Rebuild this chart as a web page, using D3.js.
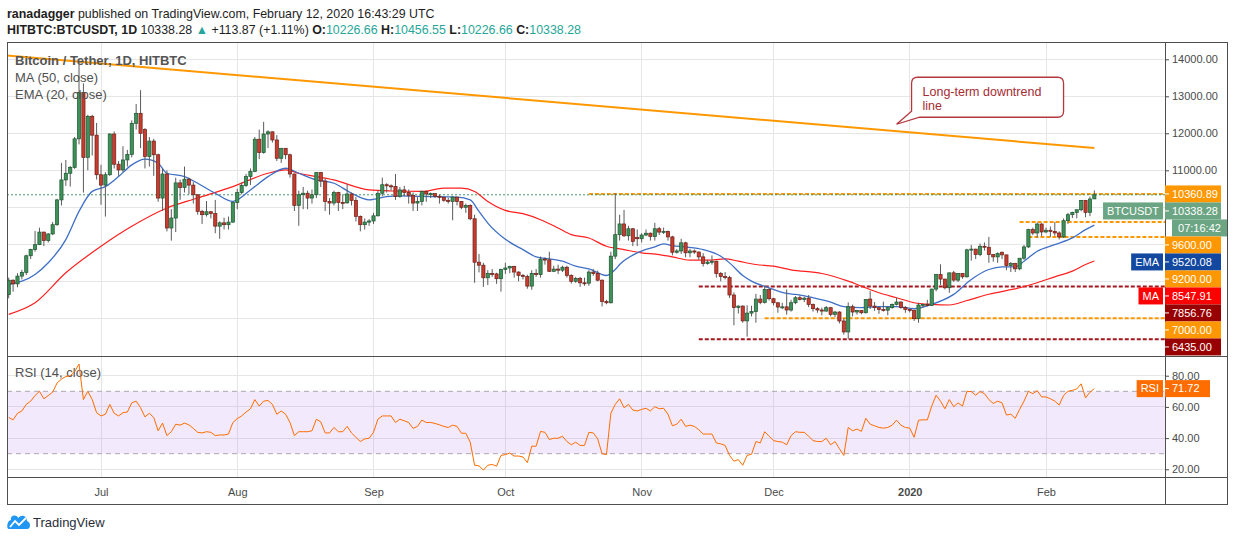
<!DOCTYPE html>
<html>
<head>
<meta charset="utf-8">
<title>Bitcoin / Tether, 1D, HITBTC</title>
<script src="https://cdnjs.cloudflare.com/ajax/libs/d3/7.8.5/d3.min.js"></script>
<style>
  body { margin: 0; background: #fff; }
  svg { display: block; font-family: "Liberation Sans", Arial, sans-serif; }
</style>
</head>
<body>
<svg id="chart" width="1234" height="541"></svg>
<script>
// daily candles, one per day starting here
const startDate = "2019-06-10"

const opens = [
  // Jun
  7640, 8030, 7930, 8140, 8240, 8690, 8860, 8990, 9330, 9100, 9280, 9530, 10200, 10740, 10920, 11080, 11850, 13100, 11350, 12460, 11950,
  // Jul
  10880, 10600, 10880, 11980, 11165, 11010, 11280, 11430, 12270, 12540, 12100, 11370, 11790, 11420, 10250, 10900, 9440, 9710, 10660, 10535, 10760, 10600, 10340, 9890, 9800, 9880, 9830, 9490, 9580, 9530, 9600,
  // Aug
  10130, 10400, 10590, 10830, 10970, 11840, 11480, 11980, 12040, 11820, 11325, 11595, 11420, 10900, 10050, 10340, 10380, 10250, 10340, 10940, 10710, 10160, 10115, 10400, 10130, 10120, 10360, 10185, 9755, 9530, 9600,
  // Sep
  9630, 9770, 10380, 10610, 10580, 10560, 10290, 10470, 10400, 10320, 10115, 10160, 10430, 10360, 10370, 10300, 10270, 10190, 10160, 10275, 10160, 10000, 10050, 9690, 8516, 8435, 8095, 8210, 8200, 8070,
  // Oct
  8320, 8360, 8400, 8250, 8160, 8130, 7870, 8210, 8180, 8600, 8580, 8270, 8330, 8300, 8380, 8160, 8000, 8080, 7960, 7950, 8250, 8210, 8030, 7450, 7420, 8680, 9260, 9550, 9230, 9420, 9180,
  // Nov
  9150, 9250, 9300, 9210, 9420, 9330, 9350, 9200, 8785, 8820, 9040, 8770, 8820, 8790, 8660, 8480, 8520, 8540, 8210, 8130, 8100, 7630, 7290, 7330, 6930, 7140, 7180, 7520, 7430, 7780,
  // Dec
  7530, 7420, 7305, 7310, 7224, 7421, 7556, 7511, 7545, 7376, 7260, 7224, 7195, 7287, 7107, 7170, 6928, 6631, 7313, 7170, 7215, 7150, 7520, 7330, 7287, 7240, 7220, 7287, 7376, 7440, 7290,
  // Jan
  7240, 7220, 6990, 7360, 7376, 7350, 7790, 8180, 8060, 7825, 8229, 8032, 8211, 8121, 8850, 8870, 8723, 8947, 8920, 8723, 8660, 8786, 8714, 8426, 8480, 8337, 8624, 8929, 9396, 9306, 9548,
  // Feb
  9333, 9380, 9350, 9306, 9198, 9638, 9800, 9862, 9934, 10186, 9862, 10226.66
]
const highs = [
  8100, 8050, 8220, 8310, 8720, 8880, 9360, 9450, 9340, 9300, 9600, 10230, 11200, 11280, 11120, 11900, 13870, 13350, 12500, 12500, 12280,
  11150, 10950, 12000, 12050, 11250, 11650, 11550, 12350, 12790, 13165, 12140, 11900, 11850, 11450, 11050, 11000, 9950, 10800, 10750, 11100, 10800, 10680, 10350, 9930, 10170, 9900, 10200, 9620, 9720, 9750, 10150,
  10500, 10670, 10900, 11050, 11900, 12100, 12310, 12080, 12050, 11950, 11600, 11600, 11450, 10910, 10450, 10550, 10450, 10480, 10950, 10950, 10780, 10250, 10450, 10420, 10350, 10620, 10400, 10280, 9780, 9700, 9680,
  9850, 10450, 10800, 10650, 10620, 10900, 10550, 10580, 10480, 10400, 10280, 10450, 10450, 10400, 10380, 10350, 10280, 10260, 10300, 10280, 10170, 10100, 10080, 9800, 8740, 8500, 8300, 8330, 8230, 8340,
  8500, 8420, 8420, 8270, 8200, 8180, 8300, 8330, 8670, 8650, 8800, 8420, 8450, 8420, 8420, 8190, 8120, 8120, 8100, 8300, 8330, 8290, 8050, 7500, 8800, 10380, 9800, 9930, 9500, 9440, 9400,
  9300, 9400, 9320, 9580, 9470, 9450, 9370, 9230, 8870, 9150, 9070, 8880, 8860, 8810, 8760, 8580, 8700, 8560, 8250, 8250, 8150, 7700, 7350, 7350, 7350, 7340, 7660, 7630, 7880, 7810,
  7550, 7430, 7420, 7780, 7500, 7600, 7620, 7580, 7630, 7400, 7300, 7290, 7330, 7300, 7200, 7190, 7000, 7430, 7370, 7230, 7220, 7520, 7735, 7440, 7300, 7450, 7330, 7400, 7556, 7460, 7330,
  7260, 7230, 7420, 7400, 7500, 7800, 8200, 8460, 8070, 8230, 8280, 8220, 8220, 8880, 8980, 8880, 9020, 9050, 9200, 8730, 8780, 8800, 8720, 8520, 8500, 8630, 8980, 9420, 9450, 9590, 9570,
  9450, 9480, 9600, 9350, 9700, 9850, 9880, 9950, 10200, 10200, 10290, 10456.55
]
const lows = [
  7540, 7720, 7840, 8050, 8170, 8600, 8800, 8980, 8950, 9050, 9250, 9500, 10050, 10580, 10560, 11040, 11700, 10400, 11000, 11400, 10750,
  10070, 9750, 10850, 11050, 10850, 10950, 11100, 11350, 12100, 11600, 11050, 11100, 10850, 10150, 9900, 9350, 9100, 9330, 10200, 10400, 10350, 10100, 9800, 9550, 9750, 9700, 9300, 9150, 9400, 9400, 9580,
  9950, 10350, 10550, 10600, 10950, 11300, 11450, 11600, 11750, 11250, 11200, 11300, 10800, 9900, 9500, 9950, 9950, 10100, 10250, 10550, 9900, 9800, 10050, 9900, 9950, 10100, 10050, 9620, 9350, 9400, 9500,
  9550, 9750, 10300, 10400, 10450, 10200, 10260, 10300, 10100, 9900, 9900, 10050, 10150, 10250, 10250, 10100, 10150, 10100, 9650, 10050, 9950, 9850, 9650, 7960, 8240, 7850, 7900, 8120, 7930, 7720,
  8200, 8220, 8100, 8000, 8050, 7800, 7770, 8120, 8100, 8450, 8250, 8260, 8200, 8250, 8100, 7940, 7960, 7850, 7880, 7880, 8150, 8000, 7320, 7380, 7400, 8600, 9100, 9200, 9100, 8950, 8950,
  9050, 9220, 9100, 9100, 9250, 9280, 9100, 8700, 8750, 8740, 8650, 8650, 8740, 8580, 8400, 8450, 8450, 8100, 8000, 8050, 7550, 6810, 7130, 6880, 6505, 7050, 6880, 7380, 7400, 7480,
  7350, 7150, 7250, 7100, 7180, 7380, 7480, 7440, 7300, 7180, 7150, 7080, 7180, 7050, 7030, 6860, 6560, 6435, 7050, 7100, 7110, 7130, 7250, 7200, 7120, 7180, 7080, 7260, 7350, 7260, 7150,
  7160, 6930, 6880, 7280, 7320, 7330, 7730, 7900, 7780, 7690, 7990, 7980, 8070, 8100, 8560, 8600, 8680, 8830, 8500, 8530, 8500, 8600, 8300, 8250, 8250, 8300, 8580, 8900, 9250, 9180, 9220,
  9300, 9200, 9230, 9130, 9170, 9550, 9710, 9700, 9890, 9730, 9760, 10226.66
]
const closes = [
  8030, 7930, 8140, 8240, 8690, 8860, 8990, 9330, 9100, 9280, 9530, 10200, 10740, 10920, 11080, 11850, 13100, 11350, 12460, 11950, 10880,
  10600, 10880, 11980, 11165, 11010, 11280, 11430, 12270, 12540, 12000, 11370, 11790, 11420, 10250, 10900, 9440, 9710, 10660, 10535, 10760, 10600, 10340, 9890, 9800, 9880, 9830, 9490, 9580, 9530, 9600, 10130,
  10400, 10590, 10830, 10970, 11840, 11480, 11980, 12040, 11820, 11325, 11595, 11420, 10900, 10050, 10340, 10380, 10250, 10340, 10940, 10710, 10160, 10115, 10400, 10130, 10120, 10360, 10185, 9755, 9530, 9600, 9630,
  9770, 10380, 10610, 10580, 10560, 10290, 10470, 10400, 10320, 10115, 10160, 10430, 10360, 10370, 10300, 10270, 10190, 10160, 10275, 10160, 10000, 10050, 9690, 8516, 8435, 8095, 8210, 8200, 8070, 8320,
  8360, 8400, 8250, 8160, 8130, 7870, 8210, 8180, 8600, 8580, 8270, 8330, 8300, 8380, 8160, 8000, 8080, 7960, 7950, 8250, 8210, 8030, 7450, 7420, 8680, 9260, 9550, 9230, 9420, 9080, 9150,
  9250, 9300, 9210, 9420, 9330, 9350, 9200, 8785, 8820, 9040, 8770, 8820, 8790, 8660, 8480, 8520, 8540, 8210, 8130, 8100, 7630, 7290, 7330, 6930, 7140, 7180, 7520, 7430, 7780, 7530,
  7420, 7305, 7310, 7224, 7421, 7556, 7511, 7545, 7376, 7260, 7224, 7195, 7287, 7107, 7170, 6928, 6631, 7313, 7170, 7215, 7150, 7511, 7330, 7287, 7240, 7220, 7287, 7376, 7440, 7290, 7240,
  7220, 6990, 7360, 7376, 7350, 7790, 8180, 8060, 7825, 8229, 8032, 8211, 8121, 8850, 8870, 8723, 8947, 8920, 8723, 8660, 8750, 8714, 8426, 8480, 8337, 8624, 8929, 9396, 9306, 9548, 9333,
  9380, 9350, 9306, 9198, 9638, 9800, 9862, 9934, 10186, 9862, 10224.41, 10338.28
]

// RSI (14, close), one value per candle
const rsiValues = [
  53.2, 51.7, 55.9, 57.4, 61.6, 63.7, 67.3, 70, 65.2, 67.3,
  69.4, 75.3, 77.8, 79.5, 79.9, 82.6, 87.5, 64.7, 70, 64.7,
  56.3, 54.2, 55.3, 61.6, 55.9, 54.2, 56.3, 56.7, 62.6, 63.7,
  59.5, 53.6, 55.9, 53.2, 44.7, 49.6, 41.6, 44.1, 48.9, 48.3,
  49.6, 48.5, 46.2, 43.7, 43.3, 44.1, 43.7, 41.6, 42, 42,
  42.6, 50, 52.5, 54.2, 56.7, 58.8, 64.7, 60.5, 63.7, 64.1,
  61.6, 55.3, 57.4, 55.3, 50, 41.6, 44.1, 44.1, 44.1, 44.7,
  52.1, 50.4, 43.3, 43.3, 46.8, 44.1, 44.1, 47.5, 43.3, 40.5,
  37.8, 39.5, 39.9, 43.7, 52.1, 54.2, 54.2, 54.2, 50, 52.1,
  51.1, 50, 46.2, 47.5, 51.5, 50, 50, 49.4, 48.5, 47.5,
  46.8, 48.3, 47.5, 43.1, 43.1, 37.4, 22.6, 22.2, 19.5, 22.6,
  23.1, 22, 28.9, 29.4, 30.4, 28.5, 28.5, 27.9, 24.3, 34.8,
  34.8, 44.3, 43.7, 39.1, 39.9, 39.9, 41.2, 37.8, 35.7, 37.4,
  35.3, 35.3, 43.7, 43.3, 39.5, 30, 29.4, 55.9, 61.6, 65.2,
  59.5, 61.6, 58, 57.4, 58.4, 59.1, 57.4, 60.1, 58.8, 59.1,
  55.3, 47.9, 48.9, 52.1, 47.5, 48.3, 47.5, 45.4, 42.6, 42.6,
  42.6, 36.9, 36.3, 35.3, 28.9, 25.2, 26.2, 22.6, 28.9, 29.6,
  37.8, 36.9, 44.1, 41.2, 38.4, 37.8, 37.4, 35.7, 41.6, 44.1,
  43.7, 43.7, 41.2, 38.4, 37.8, 37.8, 39.9, 35.7, 37.8, 33.2,
  28.9, 46.8, 44.7, 45.8, 44.3, 52.7, 48.9, 47.9, 46.8, 46.4,
  46.8, 48.3, 51.5, 48.3, 46.8, 46.4, 40.5, 51.5, 51.7, 51.7,
  60.5, 67.5, 63.7, 58.8, 64.7, 60.1, 62.6, 60.5, 70, 69.8,
  67.5, 69.8, 68.5, 64.7, 62.2, 63.7, 62.6, 54.8, 55.3, 52.7,
  58.4, 63.7, 70, 68.5, 70.4, 66.4, 66.4, 65.2, 63.7, 61.2,
  67.3, 70, 70.6, 71.5, 74.8, 65.8, 69.4, 71.72
]

// MA (50, close)
const maDates = ["2019-06-10", "2019-06-16", "2019-06-23", "2019-07-01", "2019-07-08", "2019-07-16", "2019-07-23", "2019-07-31",
  "2019-08-08", "2019-08-12", "2019-08-15", "2019-08-23", "2019-08-31", "2019-09-05", "2019-09-12", "2019-09-17", "2019-09-21",
  "2019-09-24", "2019-09-27", "2019-10-01", "2019-10-05", "2019-10-09", "2019-10-13", "2019-10-16", "2019-10-20", "2019-10-24",
  "2019-10-28", "2019-11-01", "2019-11-05", "2019-11-08", "2019-11-12", "2019-11-16", "2019-11-20", "2019-11-23", "2019-11-27",
  "2019-12-01", "2019-12-05", "2019-12-12", "2019-12-18", "2019-12-21", "2019-12-25", "2019-12-29", "2020-01-02", "2020-01-06",
  "2020-01-10", "2020-01-14", "2020-01-19", "2020-01-26", "2020-01-30", "2020-02-03", "2020-02-07", "2020-02-10", "2020-02-12"]
const maValues = [7107, 7420, 8230, 8946, 9485, 9980, 10250, 10560,
  10920, 11010, 10920, 10740, 10470, 10440, 10428, 10518, 10518,
  10428, 10159, 9916, 9827, 9665, 9440, 9261, 9171, 8947,
  8857, 8768, 8723, 8660, 8570, 8570, 8606, 8543, 8454,
  8409, 8310, 8211, 8004, 7870, 7690, 7556, 7421, 7376,
  7360, 7480, 7650, 7825, 7960, 8121, 8274, 8453, 8547.91]

// EMA (20, close)
const emaDates = ["2019-06-10", "2019-06-16", "2019-06-19", "2019-06-23", "2019-06-26", "2019-06-29", "2019-07-02", "2019-07-05",
  "2019-07-08", "2019-07-11", "2019-07-14", "2019-07-16", "2019-07-20", "2019-07-23", "2019-07-27", "2019-07-31", "2019-08-04",
  "2019-08-08", "2019-08-12", "2019-08-15", "2019-08-19", "2019-08-23", "2019-08-27", "2019-08-31", "2019-09-04", "2019-09-07",
  "2019-09-12", "2019-09-20", "2019-09-23", "2019-09-25", "2019-09-27", "2019-10-01", "2019-10-05", "2019-10-08", "2019-10-11",
  "2019-10-14", "2019-10-17", "2019-10-20", "2019-10-24", "2019-10-26", "2019-10-27", "2019-10-31", "2019-11-04", "2019-11-06",
  "2019-11-08", "2019-11-11", "2019-11-15", "2019-11-19", "2019-11-21", "2019-11-24", "2019-11-26", "2019-11-30", "2019-12-04",
  "2019-12-06", "2019-12-10", "2019-12-14", "2019-12-17", "2019-12-21", "2019-12-25", "2019-12-29", "2020-01-02", "2020-01-06",
  "2020-01-11", "2020-01-15", "2020-01-19", "2020-01-22", "2020-01-25", "2020-01-27", "2020-01-30", "2020-02-03", "2020-02-07",
  "2020-02-10", "2020-02-12"]
const emaValues = [7915, 8184, 8500, 9127, 9890, 10430, 10560, 10830,
  11146, 11300, 11190, 10920, 10830, 10650, 10380, 10160, 10470,
  10830, 11055, 10920, 10740, 10650, 10380, 10200, 10290, 10310,
  10293, 10275, 10200, 9887, 9573, 9135, 8857, 8660, 8606,
  8543, 8409, 8337, 8157, 8319, 8454, 8768, 8929, 9010,
  8965, 8929, 8857, 8678, 8498, 8157, 8005, 7825, 7673,
  7645, 7556, 7439, 7313, 7286, 7313, 7313, 7259, 7376,
  7646, 8050, 8319, 8390, 8390, 8543, 8812, 8992, 9172,
  9396, 9520.08]

// drawn horizontal levels
const levelValues = [10360.89, 9600, 9200, 7856.76, 7000, 6435]
const levelStarts = ["2019-10-20", "2020-01-26", "2020-01-28", "2019-11-14", "2019-11-29", "2019-11-14"]
const levelGroups = ["amber", "amber", "amber", "crimson", "amber", "crimson"]

// long-term downtrend line
const trendDates = ["2019-06-09", "2020-02-12"]
const trendValues = [14110, 11600]
const calloutText = ["Long-term downtrend", "line"]
const calloutDate = "2019-12-29"

const monthTicks = ["2019-07-01", "2019-08-01", "2019-09-01", "2019-10-01", "2019-11-01", "2019-12-01", "2020-01-01", "2020-02-01"]
const monthLabels = ["Jul", "Aug", "Sep", "Oct", "Nov", "Dec", "2020", "Feb"]
const priceTicks = [7000, 8000, 9000, 10000, 11000, 12000, 13000, 14000]
const rsiTicks = [20, 40, 60, 80]
const countdown = "07:16:42"

// ---------------------------------------------------------------
const parseDay = d3.utcParse("%Y-%m-%d")
const start = parseDay(startDate)
const candles = closes.map((c, i) => ({
  date: d3.utcDay.offset(start, i), o: opens[i], h: highs[i], l: lows[i], c: c
}))

const colors = {
  up: "#3f9159", upLine: "#1c5530", down: "#c63c2e", downLine: "#6d1e17", wick: "#5b5b5b",
  ma: "#ff1f1f", ema: "#3f6fc6", trend: "#ff9800", amber: "#ff9800", crimson: "#a3161c",
  last: "#6ba583", emaTag: "#12489f", maTag: "#ff0000", darkTag: "#980000", rsi: "#ff6d00",
  grid: "#e6e6e6", frame: "#4f4f4f", text: "#4a4a4a", teal: "#26a69a"
}
const tagColor = { amber: colors.amber, crimson: colors.darkTag }

const frame = { left: 7, top: 42, right: 1227, bottom: 504 }
const axisX = 1165
const paneSplit = 356
const rsiBottom = 477

const x = d3.scaleUtc()
  .domain([parseDay("2019-07-01"), parseDay("2020-02-01")])
  .range([101, 1046])
const y = d3.scaleLinear().domain([7000, 14000]).range([318.3, 59.3])
const yRsi = d3.scaleLinear().domain([20, 80]).range([469.3, 375.7])

const svg = d3.select("#chart")
const fmt = d3.format(".2f")

const defs = svg.append("defs")
defs.append("clipPath").attr("id", "clipPrice").append("rect")
  .attr("x", frame.left).attr("y", frame.top)
  .attr("width", axisX - frame.left).attr("height", paneSplit - frame.top)
defs.append("clipPath").attr("id", "clipRsi").append("rect")
  .attr("x", frame.left).attr("y", paneSplit)
  .attr("width", axisX - frame.left).attr("height", rsiBottom - paneSplit)

// header
const head = svg.append("g").attr("font-size", 12.4).attr("fill", "#1e1e1e")
const h1 = head.append("text").attr("x", 7).attr("y", 18)
h1.append("tspan").attr("font-weight", "bold").text("ranadagger")
h1.append("tspan").text(" published on TradingView.com, February 12, 2020 16:43:29 UTC")

const last = candles[candles.length - 1]
const prevClose = closes[closes.length - 2]
const change = last.c - prevClose
const h2 = head.append("text").attr("x", 7).attr("y", 34)
h2.append("tspan").attr("font-weight", "bold").text("HITBTC:BTCUSDT, 1D")
h2.append("tspan").text(" " + fmt(last.c) + " ")
h2.append("tspan").attr("fill", colors.teal).text("▲")
h2.append("tspan").text(" +" + fmt(change) + " (+" + fmt(change / prevClose * 100) + "%) ")
;[["O:", last.o], ["H:", last.h], ["L:", last.l], ["C:", last.c]].forEach(([k, v], i) => {
  h2.append("tspan").attr("font-weight", "bold").text((i ? " " : "") + k)
  h2.append("tspan").attr("fill", colors.teal).text(fmt(v))
})

// grid
const grid = svg.append("g").attr("stroke", colors.grid).attr("shape-rendering", "crispEdges")
grid.selectAll(".vg").data(monthTicks).join("line")
  .attr("x1", d => x(parseDay(d))).attr("x2", d => x(parseDay(d)))
  .attr("y1", frame.top).attr("y2", rsiBottom)
grid.selectAll(".hg").data(priceTicks).join("line").attr("class", "hg")
  .attr("x1", frame.left).attr("x2", axisX).attr("y1", d => y(d)).attr("y2", d => y(d))
grid.selectAll(".rg").data(rsiTicks).join("line").attr("class", "rg")
  .attr("x1", frame.left).attr("x2", axisX).attr("y1", d => yRsi(d)).attr("y2", d => yRsi(d))

// ---------------- price pane
const price = svg.append("g").attr("clip-path", "url(#clipPrice)")

// levels
price.selectAll(".level").data(levelValues).join("line")
  .attr("x1", (d, i) => x(parseDay(levelStarts[i]))).attr("x2", axisX)
  .attr("y1", d => y(d)).attr("y2", d => y(d))
  .attr("stroke", (d, i) => colors[levelGroups[i]])
  .attr("stroke-width", 2).attr("stroke-dasharray", "4,2")

// last price line
price.append("line")
  .attr("x1", frame.left).attr("x2", axisX).attr("y1", y(last.c)).attr("y2", y(last.c))
  .attr("stroke", "#45996a").attr("stroke-dasharray", "2,2")

// trend line
price.append("line")
  .attr("x1", x(parseDay(trendDates[0]))).attr("y1", y(trendValues[0]))
  .attr("x2", x(parseDay(trendDates[1]))).attr("y2", y(trendValues[1]))
  .attr("stroke", colors.trend).attr("stroke-width", 2)

// MA / EMA
const smooth = d3.line().curve(d3.curveMonotoneX).x(d => x(d[0])).y(d => y(d[1]))
price.append("path")
  .attr("d", smooth(maDates.map((d, i) => [parseDay(d), maValues[i]])))
  .attr("fill", "none").attr("stroke", colors.ma).attr("stroke-width", 1.2)
price.append("path")
  .attr("d", smooth(emaDates.map((d, i) => [parseDay(d), emaValues[i]])))
  .attr("fill", "none").attr("stroke", colors.ema).attr("stroke-width", 1.3)

// candles
const cg = price.selectAll(".candle").data(candles).join("g")
cg.append("line")
  .attr("x1", d => x(d.date)).attr("x2", d => x(d.date))
  .attr("y1", d => y(d.h)).attr("y2", d => y(d.l))
  .attr("stroke", colors.wick).attr("stroke-width", 1)
cg.append("rect")
  .attr("x", d => x(d.date) - 1.6).attr("width", 3.2)
  .attr("y", d => y(Math.max(d.o, d.c)))
  .attr("height", d => Math.max(1, Math.abs(y(d.o) - y(d.c))))
  .attr("fill", d => d.c >= d.o ? colors.up : colors.down)
  .attr("stroke", d => d.c >= d.o ? colors.upLine : colors.downLine)
  .attr("stroke-width", 0.7)

// callout on the trend line
const cx = x(parseDay(calloutDate))
const tSlope = (y(trendValues[1]) - y(trendValues[0])) / (x(parseDay(trendDates[1])) - x(parseDay(trendDates[0])))
const cy = y(trendValues[0]) + tSlope * (cx - x(parseDay(trendDates[0]))) - 7
const bx = cx + 15, by = cy - 47, bw = 152, bh = 40, r = 6
const cpath = d3.path()
cpath.moveTo(bx + r, by)
cpath.lineTo(bx + bw - r, by)
cpath.quadraticCurveTo(bx + bw, by, bx + bw, by + r)
cpath.lineTo(bx + bw, by + bh - r)
cpath.quadraticCurveTo(bx + bw, by + bh, bx + bw - r, by + bh)
cpath.lineTo(bx + 8, by + bh)
cpath.lineTo(cx, cy)
cpath.lineTo(bx, by + bh - 6)
cpath.lineTo(bx, by + r)
cpath.quadraticCurveTo(bx, by, bx + r, by)
cpath.closePath()
svg.append("path").attr("d", cpath.toString())
  .attr("fill", "#fff").attr("stroke", "#b3383e").attr("stroke-width", 1.3)
svg.append("text").attr("x", bx + 11).attr("y", by + 18.5)
  .attr("font-size", 12.5).attr("fill", "#a62b31")
  .selectAll("tspan").data(calloutText).join("tspan")
  .attr("x", bx + 11).attr("dy", (d, i) => i ? 14 : 0).text(d => d)

// legends
const leg = svg.append("g").attr("font-size", 13).attr("fill", "#505050")
leg.append("text").attr("x", 15).attr("y", 65).attr("font-weight", "bold").attr("fill", "#555").text("Bitcoin / Tether, 1D, HITBTC")
leg.append("text").attr("x", 15).attr("y", 82).text("MA (50, close)")
leg.append("text").attr("x", 15).attr("y", 99).text("EMA (20, close)")
leg.append("text").attr("x", 15).attr("y", 377).text("RSI (14, close)")

// ---------------- RSI pane
const rsi = svg.append("g").attr("clip-path", "url(#clipRsi)")
rsi.append("rect")
  .attr("x", frame.left).attr("width", axisX - frame.left)
  .attr("y", yRsi(70)).attr("height", yRsi(30) - yRsi(70))
  .attr("fill", "rgba(149, 76, 233, 0.12)")
rsi.selectAll(".band").data([70, 30]).join("line")
  .attr("x1", frame.left).attr("x2", axisX).attr("y1", d => yRsi(d)).attr("y2", d => yRsi(d))
  .attr("stroke", "#ada5b3").attr("stroke-dasharray", "5,4")
rsi.append("path")
  .attr("d", d3.line().x((d, i) => x(candles[i].date)).y(d => yRsi(d))(rsiValues))
  .attr("fill", "none").attr("stroke", colors.rsi).attr("stroke-width", 1)

// ---------------- frame
const fr = svg.append("g").attr("stroke", colors.frame).attr("fill", "none").attr("shape-rendering", "crispEdges")
fr.append("rect").attr("x", frame.left).attr("y", frame.top)
  .attr("width", frame.right - frame.left).attr("height", frame.bottom - frame.top)
fr.append("line").attr("x1", axisX).attr("x2", axisX).attr("y1", frame.top).attr("y2", frame.bottom)
fr.append("line").attr("x1", frame.left).attr("x2", frame.right).attr("y1", paneSplit).attr("y2", paneSplit)
fr.append("line").attr("x1", frame.left).attr("x2", frame.right).attr("y1", rsiBottom).attr("y2", rsiBottom)

// ---------------- time axis
const tAxis = svg.append("g").attr("transform", `translate(0,${rsiBottom})`)
  .call(d3.axisBottom(x).tickValues(monthTicks.map(parseDay))
    .tickFormat((d, i) => monthLabels[i]).tickSize(0).tickPadding(11))
tAxis.select(".domain").remove()
tAxis.selectAll("text").attr("font-size", 11).attr("fill", colors.text)
  .attr("font-family", "Liberation Sans, Arial, sans-serif")
  .attr("font-weight", (d, i) => monthLabels[i] === "2020" ? "bold" : null)

// ---------------- price axis tags (stacked like the platform does)
const tags = [
  ...levelValues.map((v, i) => ({ value: v, bg: tagColor[levelGroups[i]] })),
  { value: last.c, bg: colors.last, name: "BTCUSDT", slots: 2 },
  { value: emaValues[emaValues.length - 1], bg: colors.emaTag, name: "EMA" },
  { value: maValues[maValues.length - 1], bg: colors.maTag, name: "MA" }
].sort((a, b) => b.value - a.value)
let floor = -Infinity
tags.forEach(t => {
  t.pos = Math.max(y(t.value), floor)
  floor = t.pos + 17 * (t.slots || 1)
})

const visibleTicks = priceTicks.filter(v => tags.every(t => Math.abs(t.pos - y(v)) > 13))
const pAxis = svg.append("g").attr("transform", `translate(${axisX},0)`)
  .call(d3.axisRight(y).tickValues(visibleTicks).tickFormat(fmt).tickSize(4).tickPadding(3))
const rAxis = svg.append("g").attr("transform", `translate(${axisX},0)`)
  .call(d3.axisRight(yRsi).tickValues(rsiTicks).tickFormat(fmt).tickSize(4).tickPadding(3))
;[pAxis, rAxis].forEach(a => {
  a.select(".domain").remove()
  a.selectAll("line").attr("stroke", colors.text)
  a.selectAll("text").attr("font-size", 11).attr("fill", colors.text)
    .attr("font-family", "Liberation Sans, Arial, sans-serif")
})

function valueTag(pos, bg, label, width) {
  const g = svg.append("g")
  g.append("rect").attr("x", axisX).attr("y", pos - 8.5).attr("width", width).attr("height", 17).attr("fill", bg)
  g.append("line").attr("x1", axisX).attr("x2", axisX + 4).attr("y1", pos).attr("y2", pos).attr("stroke", "#fff")
  g.append("text").attr("x", axisX + 7).attr("y", pos).attr("dy", "0.35em")
    .attr("font-size", 11).attr("fill", "#fff").text(label)
}
function nameTag(pos, bg, label) {
  const g = svg.append("g")
  const t = g.append("text").attr("y", pos).attr("dy", "0.35em").attr("font-size", 11)
    .attr("fill", "#fff").attr("text-anchor", "middle").text(label)
  const w = t.node().getComputedTextLength() + 8
  g.insert("rect", "text").attr("x", axisX - 2 - w).attr("y", pos - 8.5)
    .attr("width", w).attr("height", 17).attr("fill", bg)
  t.attr("x", axisX - 2 - w / 2)
}

tags.forEach(t => {
  valueTag(t.pos, t.bg, fmt(t.value), 56)
  if (t.name) nameTag(t.pos, t.bg, t.name)
  if (t.slots === 2) {
    svg.append("rect").attr("x", axisX + 7).attr("y", t.pos + 8.5).attr("width", 55).attr("height", 17).attr("fill", t.bg)
    svg.append("text").attr("x", axisX + 34.5).attr("y", t.pos + 17).attr("dy", "0.35em")
      .attr("text-anchor", "middle").attr("font-size", 11).attr("fill", "#fff").text(countdown)
  }
})

const rsiLast = rsiValues[rsiValues.length - 1]
valueTag(yRsi(rsiLast), colors.rsi, fmt(rsiLast), 45)
nameTag(yRsi(rsiLast), colors.rsi, "RSI")

// ---------------- logo
const logo = svg.append("g")
logo.append("path")
  .attr("d", "M9,529 L27,529 C31,529 31,522 27,521 C27,516 21,514 18.5,518 C16,514 10,515 11,520 C7,520.5 6,529 9,529 Z")
  .attr("fill", "#2196f3")
logo.append("polyline").attr("points", "10,527 15,521 19,525 26,518")
  .attr("fill", "none").attr("stroke", "#fff").attr("stroke-width", 1.8)
logo.append("text").attr("x", 33).attr("y", 527).attr("font-size", 13).attr("fill", "#2a2e39").text("TradingView")
</script>
</body>
</html>
